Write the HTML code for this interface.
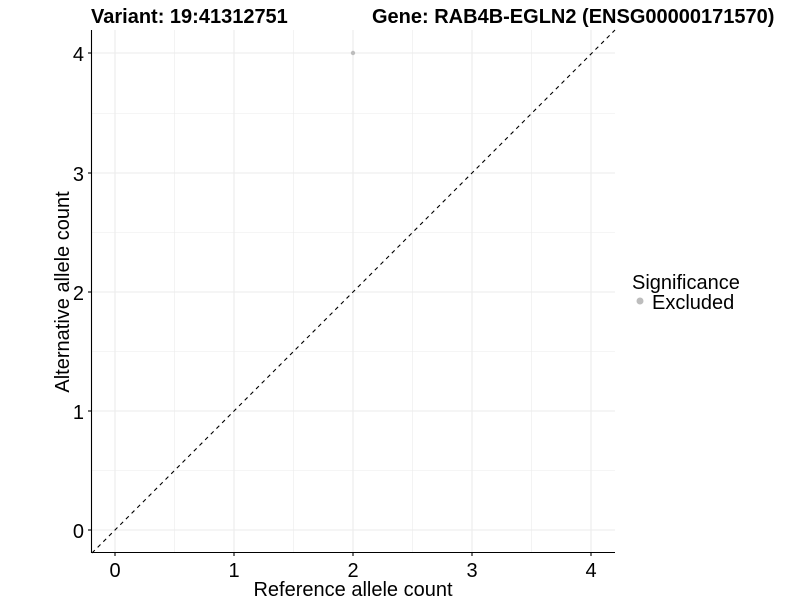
<!DOCTYPE html><html><head><style>body{margin:0;background:#fff}</style></head><body>
<svg width="800" height="600" xmlns="http://www.w3.org/2000/svg" font-family="Liberation Sans, sans-serif">
<rect width="800" height="600" fill="#fff"/>
<g stroke="#ebebeb" stroke-width="0.6">
<line x1="174.5" y1="30" x2="174.5" y2="553"/><line x1="293.5" y1="30" x2="293.5" y2="553"/><line x1="412.5" y1="30" x2="412.5" y2="553"/><line x1="531.5" y1="30" x2="531.5" y2="553"/>
<line x1="92" y1="470.5" x2="615" y2="470.5"/><line x1="92" y1="351.5" x2="615" y2="351.5"/><line x1="92" y1="232.5" x2="615" y2="232.5"/><line x1="92" y1="113.5" x2="615" y2="113.5"/>
</g>
<g stroke="#ebebeb" stroke-width="1.1">
<line x1="115" y1="30" x2="115" y2="553"/><line x1="234" y1="30" x2="234" y2="553"/><line x1="353" y1="30" x2="353" y2="553"/><line x1="472" y1="30" x2="472" y2="553"/><line x1="591" y1="30" x2="591" y2="553"/>
<line x1="92" y1="530" x2="615" y2="530"/><line x1="92" y1="411" x2="615" y2="411"/><line x1="92" y1="292" x2="615" y2="292"/><line x1="92" y1="173" x2="615" y2="173"/><line x1="92" y1="53" x2="615" y2="53"/>
</g>
<line x1="92" y1="553" x2="615" y2="30" stroke="#000" stroke-width="1.1" stroke-dasharray="4,4"/>
<circle cx="353" cy="53" r="2.2" fill="#bdbdbd"/>
<g stroke="#000" stroke-width="1.1">
<line x1="91.5" y1="30" x2="91.5" y2="553"/><line x1="91" y1="552.5" x2="615" y2="552.5"/>
<line x1="88" y1="530" x2="91" y2="530"/><line x1="88" y1="411" x2="91" y2="411"/><line x1="88" y1="292" x2="91" y2="292"/><line x1="88" y1="173" x2="91" y2="173"/><line x1="88" y1="53" x2="91" y2="53"/>
<line x1="115" y1="553" x2="115" y2="556"/><line x1="234" y1="553" x2="234" y2="556"/><line x1="353" y1="553" x2="353" y2="556"/><line x1="472" y1="553" x2="472" y2="556"/><line x1="591" y1="553" x2="591" y2="556"/>
</g>
<g font-size="20" fill="#000" text-anchor="end">
<text x="84" y="538">0</text><text x="84" y="419">1</text><text x="84" y="300">2</text><text x="84" y="181">3</text><text x="84" y="61">4</text>
</g>
<g font-size="20" fill="#000" text-anchor="middle">
<text x="115" y="577">0</text><text x="234" y="577">1</text><text x="353" y="577">2</text><text x="472" y="577">3</text><text x="591" y="577">4</text>
<text x="353" y="596">Reference allele count</text>
<text transform="translate(69,292) rotate(-90)">Alternative allele count</text>
</g>
<text x="91" y="23" font-size="20" font-weight="bold">Variant: 19:41312751</text>
<text x="372" y="23" font-size="20" font-weight="bold">Gene: RAB4B-EGLN2 (ENSG00000171570)</text>
<text x="632" y="289" font-size="20">Significance</text>
<circle cx="640" cy="301" r="3.5" fill="#bdbdbd"/>
<text x="652" y="309" font-size="20">Excluded</text>
</svg>
</body></html>
